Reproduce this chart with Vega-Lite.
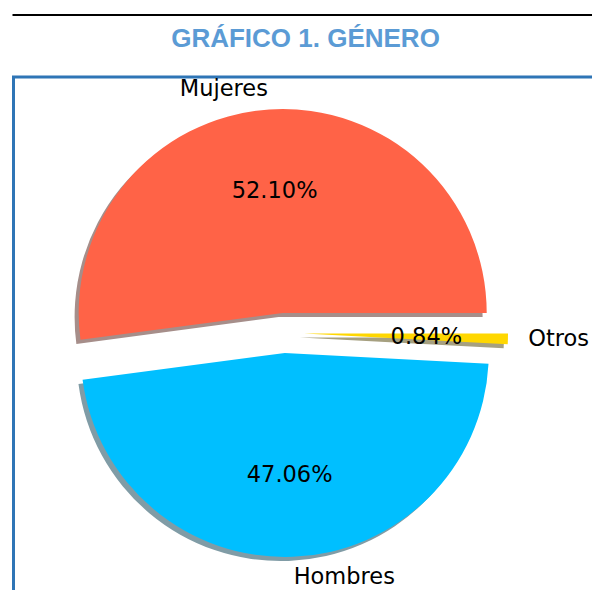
{
  "$schema": "https://vega.github.io/schema/vega-lite/v6.json",
  "autosize": {"type": "pad"},
  "padding": {"left": 11.5, "top": 14, "right": -6.5, "bottom": -7.5},
  "background": "white",
  "bounds": "flush",
  "spacing": 61,
  "vconcat": [
    {
      "width": 584,
      "height": 0.01,
      "view": {"stroke": "black", "strokeWidth": 2},
      "data": {"values": []},
      "mark": {"type": "rule"},
      "encoding": {}
    },
    {
      "width": 584,
      "height": 520,
      "title": {
        "text": "GRÁFICO 1. GÉNERO",
        "font": "Liberation Sans",
        "fontSize": 26,
        "fontWeight": "bold",
        "color": "#5B9BD5",
        "anchor": "middle",
        "frame": "group",
        "baseline": "alphabetic",
        "offset": 4
      },
      "view": {"stroke": "#2E75B6", "strokeWidth": 3, "fill": "white"},
      "data": {
        "values": [
          {"label": "Mujeres", "pct": 0.5210, "idx": 1},
          {"label": "Hombres", "pct": 0.4706, "idx": 2},
          {"label": "Otros", "pct": 0.0084, "idx": 3}
        ]
      },
      "encoding": {
        "theta": {
          "field": "pct",
          "type": "quantitative",
          "stack": true,
          "scale": {"domain": [0, 1], "range": [1.5707963, -4.712389]}
        },
        "order": {"field": "idx", "type": "quantitative"}
      },
      "layer": [
        {
          "mark": {"type": "arc", "outerRadius": 204, "xOffset": -26.9, "yOffset": -19.9},
          "encoding": {"color": {"condition": {"test": "datum.label === 'Mujeres'", "value": "#A68E8A"}, "value": "transparent"}}
        },
        {
          "mark": {"type": "arc", "outerRadius": 204, "xOffset": -24.8, "yOffset": 20.1},
          "encoding": {"color": {"condition": {"test": "datum.label === 'Hombres'", "value": "#809CA6"}, "value": "transparent"}}
        },
        {
          "mark": {"type": "arc", "outerRadius": 204, "xOffset": -5.6, "yOffset": 0.6},
          "encoding": {"color": {"condition": {"test": "datum.label === 'Otros'", "value": "#A6A080"}, "value": "transparent"}}
        },
        {
          "mark": {"type": "arc", "outerRadius": 204, "xOffset": -22.8, "yOffset": -24.0},
          "encoding": {"color": {"condition": {"test": "datum.label === 'Mujeres'", "value": "#FF6347"}, "value": "transparent"}}
        },
        {
          "mark": {"type": "arc", "outerRadius": 204, "xOffset": -20.7, "yOffset": 16.0},
          "encoding": {"color": {"condition": {"test": "datum.label === 'Hombres'", "value": "#00BFFF"}, "value": "transparent"}}
        },
        {
          "mark": {"type": "arc", "outerRadius": 204, "xOffset": -1.5, "yOffset": -3.5},
          "encoding": {"color": {"condition": {"test": "datum.label === 'Otros'", "value": "#FFD700"}, "value": "transparent"}}
        },
        {
          "mark": {"type": "text", "radius": 142.4, "dx": -21.5, "dy": -4, "font": "DejaVu Sans", "fontSize": 22.5, "color": "black", "align": "center", "baseline": "middle"},
          "encoding": {"text": {"field": "pct", "type": "quantitative", "format": ".2%"}}
        },
        {
          "mark": {"type": "text", "radius": 244.4, "dx": -21.5, "dy": -4, "font": "DejaVu Sans", "fontSize": 22.5, "color": "black", "align": "right", "baseline": "middle"},
          "encoding": {"text": {"condition": {"test": "datum.label === 'Mujeres'", "field": "label"}, "value": ""}}
        },
        {
          "mark": {"type": "text", "radius": 244.4, "dx": -21.5, "dy": -4, "font": "DejaVu Sans", "fontSize": 22.5, "color": "black", "align": "left", "baseline": "middle"},
          "encoding": {"text": {"condition": {"test": "datum.label !== 'Mujeres'", "field": "label"}, "value": ""}}
        }
      ]
    }
  ]
}
